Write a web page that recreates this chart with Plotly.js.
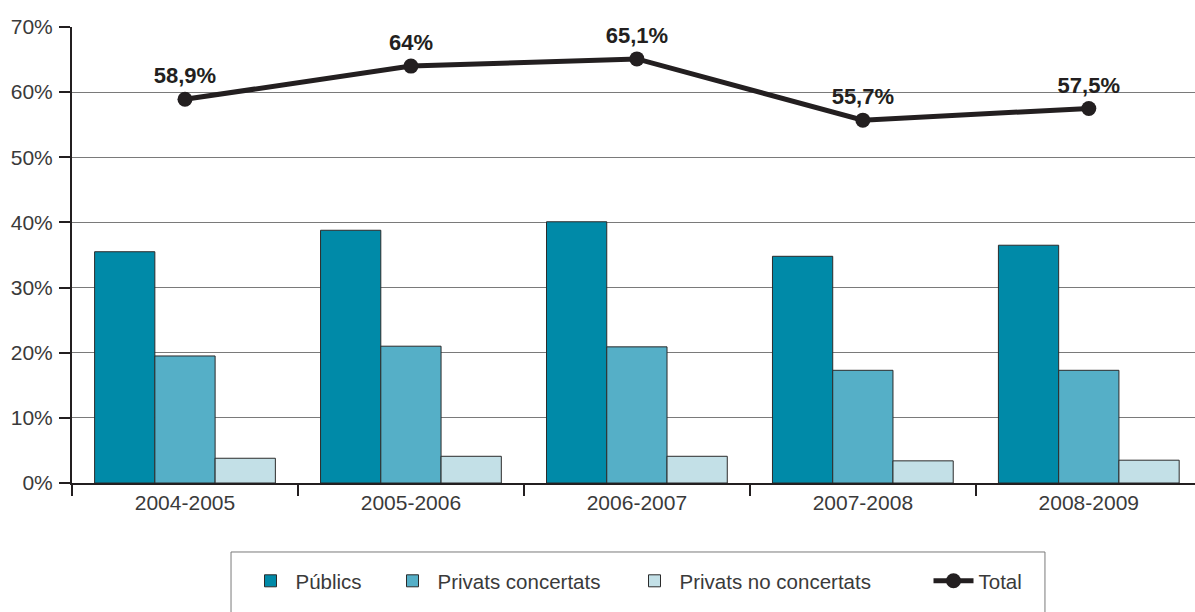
<!DOCTYPE html>
<html>
<head>
<meta charset="utf-8">
<script src="https://cdn.plot.ly/plotly-3.0.1.min.js"></script>
<style>html,body{margin:0;padding:0;background:#fff;}#chart{width:1195px;height:612px;}</style>
</head>
<body>
<div id="chart"></div>
<script>
const categories = ['2004-2005', '2005-2006', '2006-2007', '2007-2008', '2008-2009'];
const publics = [35.5, 38.8, 40.1, 34.8, 36.5];
const privatsConcertats = [19.5, 21.0, 20.9, 17.3, 17.3];
const privatsNoConcertats = [3.8, 4.1, 4.1, 3.4, 3.5];
const total = [58.9, 64, 65.1, 55.7, 57.5];
const yTicks = [0, 10, 20, 30, 40, 50, 60, 70];
const yTickLabels = yTicks.map(v => v + '%');

const fontFam = '"Liberation Sans", Arial, Helvetica, sans-serif';
const outline = {color: '#2b2b2b', width: 1};

const traces = [
  {type: 'bar', name: 'Públics', x: categories, y: publics, legendwidth: 87,
   marker: {color: '#008aa8', line: outline}},
  {type: 'bar', name: 'Privats concertats', x: categories, y: privatsConcertats, legendwidth: 187,
   marker: {color: '#55afc7', line: outline}},
  {type: 'bar', name: 'Privats no concertats', x: categories, y: privatsNoConcertats, legendwidth: 244,
   marker: {color: '#c3e0e7', line: outline}},
  {type: 'scatter', mode: 'lines+markers+text', name: 'Total', x: categories, y: total, legendwidth: 60,
   line: {color: '#231f20', width: 5},
   marker: {color: '#231f20', size: 15},
   text: total.map(v => String(v).replace('.', ',') + '%'),
   textposition: 'top center',
   textfont: {family: fontFam, size: 22, color: '#231f20', weight: 'bold'},
   cliponaxis: false}
];

const layout = {
  width: 1195, height: 612,
  margin: {l: 72, r: 0, t: 27, b: 129},
  paper_bgcolor: '#fff', plot_bgcolor: '#fff',
  font: {family: fontFam, size: 20.5, color: '#3a3a3a'},
  barmode: 'group', bargap: 0.2, bargroupgap: 0,
  showlegend: true,
  xaxis: {
    type: 'category', range: [-0.5, 4.47],
    showline: true, linecolor: '#231f20', linewidth: 2,
    ticks: 'outside', tickson: 'boundaries', ticklen: 11, tickwidth: 2, tickcolor: '#231f20',
    showgrid: false, zeroline: false,
    tickfont: {size: 21, color: '#3a3a3a'}
  },
  yaxis: {
    range: [0, 70], tickvals: yTicks, ticktext: yTickLabels,
    showline: true, linecolor: '#231f20', linewidth: 2,
    ticks: 'outside', ticklen: 11, tickwidth: 2, tickcolor: '#231f20',
    ticklabelstandoff: 2,
    showgrid: true, gridcolor: '#7a7a7a', gridwidth: 1, zeroline: false,
    tickfont: {size: 21, color: '#3a3a3a'}
  },
  legend: {
    orientation: 'h', x: 0.1545, xanchor: 'left', y: -0.171, yanchor: 'top',
    itemwidth: 40,
    font: {size: 20.5, color: '#3a3a3a'}, bgcolor: 'rgba(0,0,0,0)', borderwidth: 0,
    traceorder: 'normal'
  },
  shapes: [
    {type: 'rect', xref: 'paper', yref: 'paper', x0: 0.1416, x1: 0.8664, y0: -0.1513, y1: -0.40,
     line: {color: '#7a7a7a', width: 1}, fillcolor: 'rgba(0,0,0,0)', layer: 'below'}
  ]
};

Plotly.newPlot('chart', traces, layout, {displayModeBar: false, staticPlot: true});
</script>
</body>
</html>
